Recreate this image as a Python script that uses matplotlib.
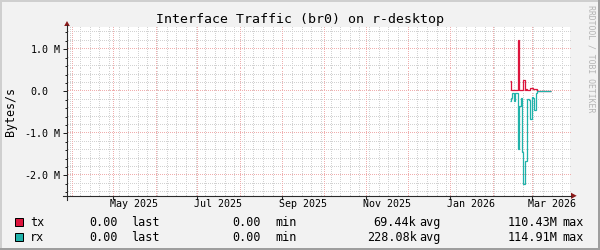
import numpy as np
import pandas as pd
import matplotlib
matplotlib.use('Agg')
import matplotlib.pyplot as plt
import matplotlib.dates as mdates
from matplotlib.ticker import MultipleLocator
from matplotlib.patches import Rectangle, Polygon
from matplotlib.lines import Line2D
from matplotlib.transforms import blended_transform_factory

# daily averages in MB/s, first day 2026-02-13 (rx plotted below zero)
first_day = '2026-02-13'
tx_mb = [0.24, 0.024, 0.024, 0.024, 0.024, 0.024, 1.22, 0.04, 0.04, 0.04,
         0.26, 0.04, 0.065, 0.04, 0.04, 0.07, 0.07, 0.06, 0.06, 0.05,
         0, 0, 0, 0, 0, 0, 0, 0, 0, 0]
rx_mb = [-0.24, -0.17, -0.05, -0.24, -0.03, -0.03, -1.37, -0.34, -0.17, -1.45,
         -2.21, -1.65, -1.65, -0.18, -0.2, -0.65, -0.14, -0.17, -0.44, -0.03,
         0, 0, 0, 0, 0, 0, 0, 0, 0, 0]

x_start = '2025-03-28 14:05'
x_end = '2026-03-28 21:00'
y_min, y_max = -2.49e6, 1.53e6

month_labels = ['May 2025', 'Jul 2025', 'Sep 2025', 'Nov 2025', 'Jan 2026', 'Mar 2026']
month_ticks = ['2025-05-01', '2025-07-01', '2025-09-01', '2025-11-01', '2026-01-01', '2026-03-01']
label_pos = ['2025-05-16', '2025-07-16', '2025-09-16', '2025-11-16', '2026-01-16', '2026-03-16']

y_ticks = [-2e6, -1e6, 0, 1e6]
y_tick_nums = ['-2.0', '-1.0', '0.0', '1.0']
y_tick_units = ['M', 'M', '', 'M']

legend_rows = [
    ('tx', ['0.00', '0.00', '69.44k', '110.43M']),
    ('rx', ['0.00', '0.00', '228.08k', '114.91M']),
]
legend_stats = ['last', 'min', 'avg', 'max']

tx_color = '#DC143C'
rx_color = '#20B2AA'
mono = 'DejaVu Sans Mono'

W, H = 600, 250


def fx(px):
    return px / W


def fy(py):
    return 1 - py / H


fig = plt.figure(figsize=(6, 2.5), dpi=100, facecolor='#F2F2F2')

ax_w, ax_h = 503, 169
ax = fig.add_axes([fx(67), fy(196), ax_w / W, ax_h / H])
ax.set_facecolor('white')
ax.set_xlim(pd.Timestamp(x_start), pd.Timestamp(x_end))
ax.set_ylim(y_min, y_max)
for s in ax.spines.values():
    s.set_visible(False)

ax.xaxis.set_major_locator(mdates.MonthLocator())
ax.xaxis.set_minor_locator(mdates.WeekdayLocator(byweekday=mdates.MO))
ax.yaxis.set_major_locator(MultipleLocator(1e6))
ax.yaxis.set_minor_locator(MultipleLocator(2e5))
ax.tick_params(axis='x', which='both', length=0, labelbottom=False)
ax.tick_params(axis='y', which='major', direction='out', length=3, width=0.72,
               color='#1F1F1F', labelleft=False)
ax.tick_params(axis='y', which='minor', direction='out', length=1.5, width=0.72,
               color='#1F1F1F')


# rrdtool style dotted grid: one pixel on, one pixel off
def dotted_grid(xvals, yvals, color):
    ys = (np.arange(0, ax_h, 2) + 0.5) / ax_h
    xs = (np.arange(0, ax_w, 2) + 0.5) / ax_w
    vx = np.repeat(xvals, len(ys))
    vy = np.tile(ys, len(xvals))
    ax.plot(vx, vy, ',', color=color, transform=ax.get_xaxis_transform(), zorder=0.5)
    hx = np.tile(xs, len(yvals))
    hy = np.repeat(yvals, len(xs))
    ax.plot(hx, hy, ',', color=color, transform=ax.get_yaxis_transform(), zorder=0.5)


xlo, xhi = ax.get_xlim()
major_x = [v for v in ax.xaxis.get_major_locator()() if xlo < v < xhi]
minor_x = [v for v in ax.xaxis.get_minor_locator()() if xlo < v < xhi]
major_y = [v for v in ax.yaxis.get_major_locator()() if y_min < v < y_max]
minor_y = [v for v in ax.yaxis.get_minor_locator()() if y_min < v < y_max]
dotted_grid(minor_x, minor_y, '#D2D2D2')
dotted_grid(major_x, major_y, '#F0AEAE')

# data
edges = mdates.date2num(pd.date_range(first_day, periods=len(tx_mb) + 1, freq='D'))
ax.stairs(np.array(tx_mb) * 1e6, edges, baseline=None, color=tx_color, linewidth=0.9, zorder=2)
ax.stairs(np.array(rx_mb) * 1e6, edges, baseline=None, color=rx_color, linewidth=0.9, zorder=3)

# axis lines and arrows
axis_col = '#2A2A2A'
arrow_col = '#8B1A1A'
fig.add_artist(Line2D([fx(63), fx(571)], [fy(196), fy(196)], color=axis_col, lw=0.8))
fig.add_artist(Line2D([fx(67), fx(67)], [fy(200), fy(25)], color=axis_col, lw=0.8))
fig.add_artist(Polygon([(fx(571), fy(192.7)), (fx(576.7), fy(195.8)), (fx(571), fy(198.9))],
                       closed=True, color=arrow_col, lw=0))
fig.add_artist(Polygon([(fx(64.2), fy(26)), (fx(67), fy(21)), (fx(69.8), fy(26))],
                       closed=True, color=arrow_col, lw=0))

# x labels
tr_x = blended_transform_factory(ax.transData, fig.transFigure)
for d in month_ticks:
    xd = mdates.date2num(pd.Timestamp(d))
    fig.add_artist(Line2D([xd, xd], [fy(196), fy(199)], color=axis_col, lw=0.8, transform=tr_x))
for lab, d in zip(month_labels, label_pos):
    fig.text(mdates.date2num(pd.Timestamp(d)), fy(207.3), lab, transform=tr_x,
             ha='center', va='baseline', fontsize=7.2, family=mono)

# y labels
tr_y = blended_transform_factory(fig.transFigure, ax.transData)
for v, num, unit in zip(y_ticks, y_tick_nums, y_tick_units):
    fig.text(fx(48.3), v, num, transform=tr_y, ha='right', va='center_baseline',
             fontsize=7.2, family=mono)
    if unit:
        fig.text(fx(53.5), v, unit, transform=tr_y, ha='left', va='center_baseline',
                 fontsize=7.2, family=mono)

fig.text(fx(11), fy(111.7), 'Bytes/s', rotation=90, ha='center', va='center',
         fontsize=8.4, family=mono)

# title and side credit
fig.text(fx(300), fy(23.3), 'Interface Traffic (br0) on r-desktop', ha='center',
         va='baseline', fontsize=9.5, family=mono)
fig.text(fx(591.5), fy(59), 'RRDTOOL / TOBI OETIKER', rotation=270, ha='center',
         va='center', fontsize=5.9, family=mono, color='#B4B4B4')

# legend
num_right = [117.5, 261, 416.5, 558]
stat_left = [131.5, 275.5, 419.5, 562.5]
for i, ((name, vals), col) in enumerate(zip(legend_rows, [tx_color, rx_color])):
    base = 225.7 + 15 * i
    fig.add_artist(Rectangle((fx(15), fy(base)), fx(8), 8 / H, facecolor=col,
                             edgecolor='black', lw=0.72))
    fig.text(fx(30), fy(base), name, ha='left', va='baseline', fontsize=8.5, family=mono)
    for v, xr, st, xl in zip(vals, num_right, legend_stats, stat_left):
        fig.text(fx(xr), fy(base), v, ha='right', va='baseline', fontsize=8.5, family=mono)
        fig.text(fx(xl), fy(base), st, ha='left', va='baseline', fontsize=8.5, family=mono)

# 3d frame around the image
fig.add_artist(Rectangle((0, fy(2)), 1, 2 / H, color='#CFCFCF', lw=0))
fig.add_artist(Rectangle((0, 0), fx(2), 1, color='#CFCFCF', lw=0))
fig.add_artist(Rectangle((0, 0), 1, 2 / H, color='#9E9E9E', lw=0))
fig.add_artist(Rectangle((fx(598), 0), fx(2), 1, color='#9E9E9E', lw=0))

fig.savefig('out.png', dpi=100, facecolor=fig.get_facecolor())
